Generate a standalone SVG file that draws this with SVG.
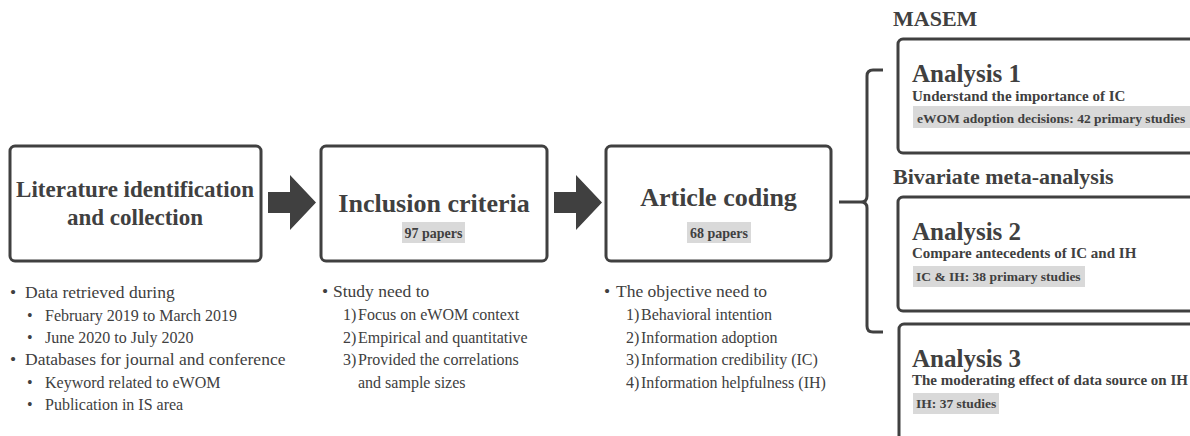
<svg xmlns="http://www.w3.org/2000/svg" width="1190" height="436" viewBox="0 0 1190 436">
<style>
.box{fill:#fff;stroke:#404040;stroke-width:3}
.t{font-family:"Liberation Serif","Times New Roman",serif;fill:#404040}
.b{font-weight:bold}
.hl{fill:#d9d9d9}
.arr{fill:#404040}
.con{fill:none;stroke:#404040;stroke-width:3;stroke-linejoin:round}
</style>
<rect width="1190" height="436" fill="#fff"/>
<g id="connectors">
<polygon class="arr" points="268,192 290,192 290,175 316,202.5 290,230 290,213 268,213"/>
<polygon class="arr" points="554,192 576,192 576,175 602,202.5 576,230 576,213 554,213"/>
<path class="con" d="M883,70 H873 Q867,70 867,76 V196 Q867,202 861,202 H839 M861,202 Q867,202 867,208 V326 Q867,332 873,332 H883"/>
</g>
<g id="node-literature">
<rect class="box" x="10" y="146" width="251" height="115" rx="5"/>
<text class="t b" x="135" y="197" font-size="23" text-anchor="middle">Literature identification</text>
<text class="t b" x="135" y="225" font-size="23" text-anchor="middle">and collection</text>
</g>
<g id="node-inclusion">
<rect class="box" x="321" y="146" width="226" height="115" rx="5"/>
<text class="t b" x="434" y="212" font-size="26" text-anchor="middle">Inclusion criteria</text>
<rect class="hl" x="402" y="222" width="63" height="21"/>
<text class="t b" x="433.5" y="238" font-size="14" text-anchor="middle">97 papers</text>
</g>
<g id="node-coding">
<rect class="box" x="606" y="146" width="225" height="115" rx="5"/>
<text class="t b" x="718.5" y="206" font-size="26" text-anchor="middle">Article coding</text>
<rect class="hl" x="687" y="222" width="64" height="21"/>
<text class="t b" x="719" y="238" font-size="14" text-anchor="middle">68 papers</text>
</g>
<g id="label-masem">
<text class="t b" x="893" y="26" font-size="22">MASEM</text>
</g>
<g id="node-analysis1">
<rect class="box" x="898" y="39" width="310" height="114" rx="5"/>
<text class="t b" x="912" y="82" font-size="25">Analysis 1</text>
<text class="t b" x="912" y="101" font-size="15">Understand the importance of IC</text>
<rect class="hl" x="913" y="106" width="277" height="22"/>
<text class="t b" x="917" y="123" font-size="13.5">eWOM adoption decisions: 42 primary studies</text>
</g>
<g id="label-bivariate">
<text class="t b" x="893" y="184" font-size="22">Bivariate meta-analysis</text>
</g>
<g id="node-analysis2">
<rect class="box" x="898" y="197" width="310" height="114" rx="5"/>
<text class="t b" x="912" y="240" font-size="25">Analysis 2</text>
<text class="t b" x="912" y="258" font-size="15">Compare antecedents of IC and IH</text>
<rect class="hl" x="913" y="266" width="172" height="21"/>
<text class="t b" x="916" y="281" font-size="13.5">IC &amp; IH: 38 primary studies</text>
</g>
<g id="node-analysis3">
<rect class="box" x="899" y="324" width="310" height="130" rx="5"/>
<text class="t b" x="912" y="367" font-size="25">Analysis 3</text>
<text class="t b" x="912" y="385" font-size="15">The moderating effect of data source on IH</text>
<rect class="hl" x="913" y="393" width="86" height="21"/>
<text class="t b" x="916" y="408" font-size="13.5">IH: 37 studies</text>
</g>
<g id="list-literature" class="t">
<text x="10" y="298" font-size="17.5">•</text>
<text x="25" y="298" font-size="17.5">Data retrieved during</text>
<text x="27" y="321" font-size="16">•</text>
<text x="45" y="321" font-size="16">February 2019 to March 2019</text>
<text x="27" y="343" font-size="16">•</text>
<text x="45" y="343" font-size="16">June 2020 to July 2020</text>
<text x="10" y="365" font-size="17.5">•</text>
<text x="25" y="365" font-size="17.5">Databases for journal and conference</text>
<text x="27" y="388" font-size="16">•</text>
<text x="45" y="388" font-size="16">Keyword related to eWOM</text>
<text x="27" y="410" font-size="16">•</text>
<text x="45" y="410" font-size="16">Publication in IS area</text>
</g>
<g id="list-inclusion" class="t">
<text x="322" y="297" font-size="17.5">•</text>
<text x="333" y="297" font-size="17.5">Study need to</text>
<text x="343" y="320" font-size="16">1)</text>
<text x="358" y="320" font-size="16">Focus on eWOM context</text>
<text x="343" y="343" font-size="16">2)</text>
<text x="358" y="343" font-size="16">Empirical and quantitative</text>
<text x="343" y="365" font-size="16">3)</text>
<text x="358" y="365" font-size="16">Provided the correlations</text>
<text x="358" y="388" font-size="16">and sample sizes</text>
</g>
<g id="list-coding" class="t">
<text x="604" y="297" font-size="17.5">•</text>
<text x="616" y="297" font-size="17.5">The objective need to</text>
<text x="626" y="320" font-size="16">1)</text>
<text x="641" y="320" font-size="16">Behavioral intention</text>
<text x="626" y="343" font-size="16">2)</text>
<text x="641" y="343" font-size="16">Information adoption</text>
<text x="626" y="365" font-size="16">3)</text>
<text x="641" y="365" font-size="16">Information credibility (IC)</text>
<text x="626" y="388" font-size="16">4)</text>
<text x="641" y="388" font-size="16">Information helpfulness (IH)</text>
</g>
</svg>
